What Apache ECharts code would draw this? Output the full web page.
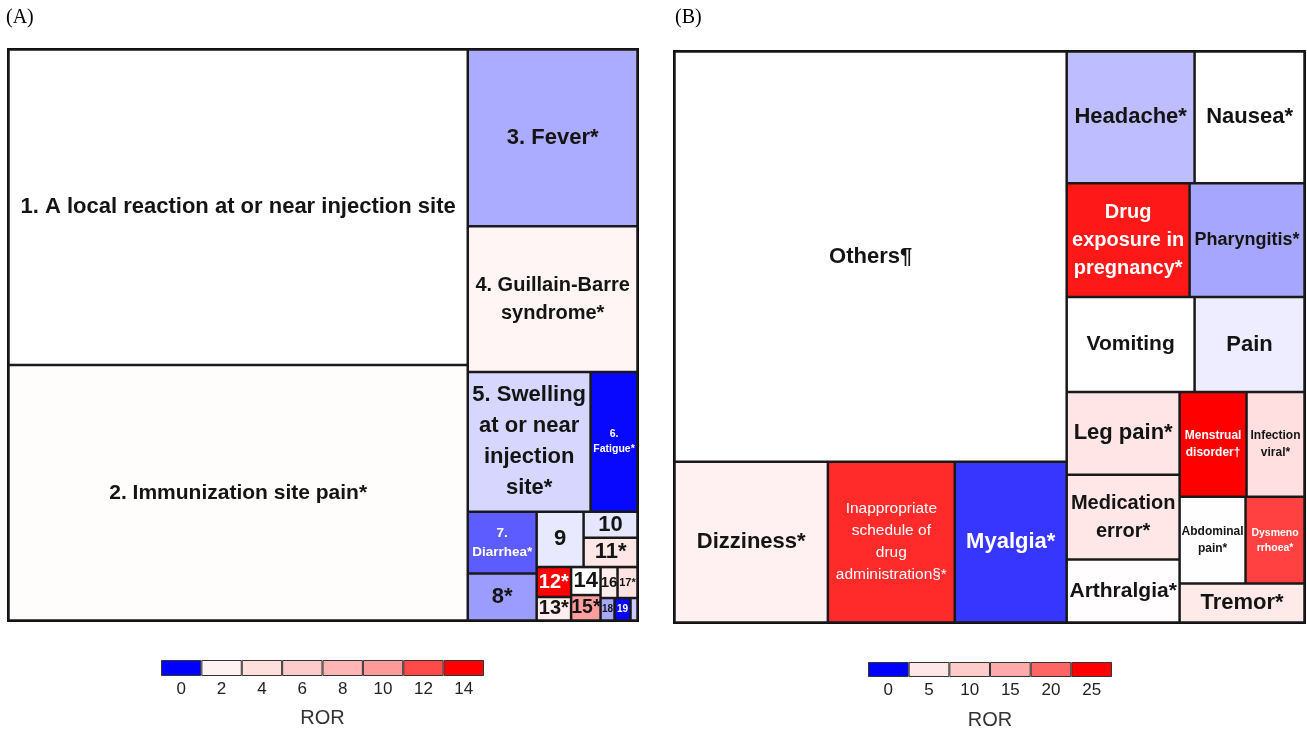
<!DOCTYPE html>
<html>
<head>
<meta charset="utf-8">
<title>ROR treemaps</title>
<script src="https://cdn.jsdelivr.net/npm/echarts@6/dist/echarts.min.js"></script>
<style>
html, body { margin: 0; padding: 0; background: #fff; }
#chart { width: 1307px; height: 731px; }
</style>
</head>
<body>
<div id="chart"></div>
<script>
// (A) cells: name, number of reports (cell area) and ROR (cell colour)
var namesA = ['1. A local reaction at or near injection site', '2. Immunization site pain*', '3. Fever*',
	'4. Guillain-Barre\nsyndrome*', '5. Swelling\nat or near\ninjection\nsite*', '6.\nFatigue*', '7.\nDiarrhea*',
	'8*', '9', '10', '11*', '12*', '13*', '14', '15*', '16', '17*', '18', '19', ''];
var reportsA = [145360, 117760, 30090, 24820, 17220, 6580, 4278, 3243, 2609, 1404, 1593,
	1035, 811, 826, 752, 527, 620, 315, 360, 158];
var rorA = [1.0, 1.2, 0.67, 1.8, 0.84, 0.03, 0.36, 0.61, 0.91, 0.9, 3.2,
	14.5, 2.6, 1.1, 9.7, 2.6, 3.5, 0.66, 0.02, 0.8];

// (B) cells
var namesB = ['Others¶', 'Dizziness*', 'Inappropriate\nschedule of\ndrug\nadministration§*', 'Myalgia*',
	'Headache*', 'Nausea*', 'Drug\nexposure in\npregnancy*', 'Pharyngitis*', 'Vomiting', 'Pain',
	'Leg pain*', 'Medication\nerror*', 'Arthralgia*', 'Menstrual\ndisorder†', 'Infection\nviral*',
	'Abdominal\npain*', 'Dysmeno\nrrhoea*', 'Tremor*'];
var reportsB = [161318, 24714, 20447, 18032, 16896, 14520, 14022, 13110, 12160, 10450,
	9379, 9605, 7119, 7035, 6090, 5742, 5133, 4875];
var rorB = [1.0, 3.3, 22.9, 0.21, 0.74, 1.0, 23.8, 0.65, 1.0, 0.93,
	5.3, 5.0, 1.4, 25.5, 6.5, 1.2, 21.8, 4.5];

// colour bar ticks
var ticksA = [0, 2, 4, 6, 8, 10, 12, 14];
var ticksB = [0, 5, 10, 15, 20, 25];

// grouping of the cells (indices), nested like the pivot layout of the original
var nestA = [[0, 1], [2, [3, [[4, 5], [[6, 7], [[8, [9, 10]], [[11, 12], [[13, 14], [[15, 16], [17, 18, 19]]]]]]]]]];
var nestB = [[0, [1, 2, 3]], [[4, 5], [[6, 7], [[8, 9], [[10, 11, 12], [[13, 14], [[15, 16], 17]]]]]]];

// label font sizes
var fontA = [22, 21, 22, 20, 22, 10.5, 13.5, 22, 22, 22, 22, 20, 20, 22, 19.5, 15, 11, 10, 10, 8];
var fontB = [22, 22, 15.5, 22, 22, 22, 20, 18, 21, 22, 22, 20, 21, 12, 12, 12, 10.5, 22];
var plainB = [2];

// colour scales
var stopsA = [[0, '#0000ff'], [1, '#ffffff'], [2, '#fff2f2'], [4, '#ffdede'], [6, '#ffcaca'],
	[8, '#ffb5b5'], [10, '#ff9a9a'], [12, '#ff4a4a'], [14, '#ff0000']];
var stopsB = [[0, '#0000ff'], [1, '#ffffff'], [5, '#ffe7e7'], [10, '#ffcccc'], [15, '#ffaaaa'],
	[20, '#ff6565'], [25, '#ff0000']];

var sansFont = '"Liberation Sans", Arial, sans-serif';
var serifFont = '"Liberation Serif", "Times New Roman", serif';

function hexRgb(h) {
	return [parseInt(h.substr(1, 2), 16), parseInt(h.substr(3, 2), 16), parseInt(h.substr(5, 2), 16)];
}

function rorRgb(v, stops) {
	if (v <= stops[0][0]) return hexRgb(stops[0][1]);
	for (var i = 1; i < stops.length; i++) {
		if (v <= stops[i][0]) {
			var a = stops[i - 1], b = stops[i];
			var t = (v - a[0]) / (b[0] - a[0]);
			var c0 = hexRgb(a[1]), c1 = hexRgb(b[1]);
			return [0, 1, 2].map(function (k) { return Math.round(c0[k] + (c1[k] - c0[k]) * t); });
		}
	}
	return hexRgb(stops[stops.length - 1][1]);
}

function css(rgb) {
	return 'rgb(' + rgb.join(',') + ')';
}

function buildNode(spec, names, reports, rors, fonts, stops, plain) {
	if (typeof spec === 'number') {
		var rgb = rorRgb(rors[spec], stops);
		var lum = 0.299 * rgb[0] + 0.587 * rgb[1] + 0.114 * rgb[2];
		var multi = names[spec].indexOf('\n') >= 0;
		return {
			name: names[spec],
			value: reports[spec],
			itemStyle: { color: css(rgb), borderColor: '#1a1a1a', borderWidth: 1.25 },
			label: {
				fontSize: fonts[spec],
				lineHeight: multi ? Math.round(fonts[spec] * 1.42) : fonts[spec],
				fontWeight: plain.indexOf(spec) >= 0 ? 'normal' : 'bold',
				color: lum < 140 ? '#ffffff' : '#141414'
			}
		};
	}
	return {
		name: '',
		children: spec.map(function (s) { return buildNode(s, names, reports, rors, fonts, stops, plain); }),
		itemStyle: { borderWidth: 0, gapWidth: 0 }
	};
}

function treemapSeries(tree, left, top, width, height) {
	return {
		type: 'treemap',
		left: left, top: top, width: width, height: height,
		roam: false,
		nodeClick: false,
		breadcrumb: { show: false },
		squareRatio: 1,
		sort: false,
		visibleMin: 0,
		animation: false,
		silent: true,
		label: { show: true, position: 'inside', padding: 0, overflow: 'none', fontFamily: sansFont },
		upperLabel: { show: false },
		itemStyle: { borderColor: '#1a1a1a', borderWidth: 0, gapWidth: 0 },
		levels: [{ itemStyle: { borderColor: '#111111', borderWidth: 1.5, gapWidth: 0 } }],
		data: tree
	};
}

function legendBars(ticks, stops, idx) {
	return {
		type: 'bar',
		xAxisIndex: idx,
		yAxisIndex: idx,
		barWidth: '100%',
		silent: true,
		animation: false,
		itemStyle: { borderColor: '#333', borderWidth: 1 },
		data: ticks.map(function (v) {
			return { value: 1, itemStyle: { color: css(rorRgb(v, stops)) } };
		})
	};
}

function legendAxis(ticks, idx, gap) {
	return {
		gridIndex: idx,
		type: 'category',
		data: ticks.map(String),
		axisLine: { show: false },
		axisTick: { show: false },
		axisLabel: { fontSize: 17, color: '#222', margin: 5, fontFamily: sansFont },
		name: 'ROR',
		nameLocation: 'middle',
		nameGap: gap,
		nameTextStyle: { fontSize: 20, color: '#333', fontFamily: sansFont }
	};
}

var treeA = nestA.map(function (s) { return buildNode(s, namesA, reportsA, rorA, fontA, stopsA, []); });
var treeB = nestB.map(function (s) { return buildNode(s, namesB, reportsB, rorB, fontB, stopsB, plainB); });

var chart = echarts.init(document.getElementById('chart'));
var option = {
	backgroundColor: '#ffffff',
	animation: false,
	title: [
		{ text: '(A)', left: 6, top: 8, padding: 0,
			textStyle: { fontFamily: serifFont, fontSize: 20, fontWeight: 'normal', color: '#000' } },
		{ text: '(B)', left: 675, top: 8, padding: 0,
			textStyle: { fontFamily: serifFont, fontSize: 20, fontWeight: 'normal', color: '#000' } }
	],
	grid: [
		{ left: 161, top: 660, width: 323, height: 16 },
		{ left: 868, top: 662, width: 244, height: 16 }
	],
	xAxis: [legendAxis(ticksA, 0, 32), legendAxis(ticksB, 1, 33)],
	yAxis: [
		{ gridIndex: 0, type: 'value', min: 0, max: 1, show: false },
		{ gridIndex: 1, type: 'value', min: 0, max: 1, show: false }
	],
	series: [
		treemapSeries(treeA, 7, 48, 632, 574),
		treemapSeries(treeB, 673, 50, 633, 574),
		legendBars(ticksA, stopsA, 0),
		legendBars(ticksB, stopsB, 1)
	]
};
chart.setOption(option, true);
</script>
</body>
</html>
